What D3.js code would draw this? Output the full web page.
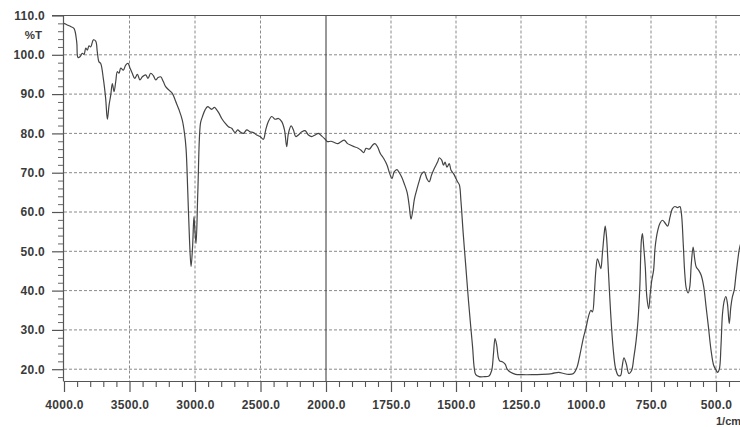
<!DOCTYPE html>
<html><head><meta charset="utf-8">
<script src="https://cdn.jsdelivr.net/npm/d3@7/dist/d3.min.js"></script>
<style>
body{margin:0;background:#fff;overflow:hidden}
text{font-family:"Liberation Sans",Arial,sans-serif;font-weight:bold;fill:#3a3a3a}
</style>
</head><body>
<svg id="chart" width="740" height="427"></svg>
<script>
// wavenumber (1/cm) and transmittance (%T)
const wavenumber = [4000,3975,3949,3924,3903,3893,3878,3860,3847,3834,3822,3809,3796,3776,3758,3746,3733,3720,3700,3682,3669,3656,3643,3631,3618,3605,3593,3580,3567,3547,3529,3511,3496,3479,3460,3440,3420,3402,3376,3359,3338,3318,3300,3282,3262,3242,3224,3198,3173,3147,3122,3097,3080,3068,3055,3042,3030,3018,3008,3000,2992,2978,2958,2944,2923,2903,2885,2872,2852,2834,2816,2796,2770,2745,2720,2694,2674,2656,2630,2605,2579,2554,2529,2503,2478,2460,2440,2414,2388,2363,2338,2317,2300,2287,2266,2249,2231,2211,2185,2160,2134,2109,2083,2058,2032,2006,1994,1981,1968,1955,1942,1930,1917,1904,1891,1878,1865,1855,1846,1833,1821,1812,1802,1791,1778,1765,1757,1746,1738,1727,1718,1709,1699,1688,1680,1673,1667,1660,1650,1641,1632,1622,1612,1603,1594,1584,1571,1564,1555,1548,1542,1535,1526,1519,1509,1500,1494,1487,1481,1472,1462,1452,1443,1436,1430,1424,1411,1392,1373,1363,1356,1350,1344,1337,1332,1322,1311,1303,1290,1271,1246,1207,1169,1131,1105,1086,1067,1048,1035,1023,1010,1000,990,981,975,968,962,956,949,943,937,930,926,921,914,905,896,886,876,867,861,854,845,835,825,816,807,800,793,787,783,778,772,766,759,753,747,740,734,724,715,706,696,686,677,668,658,648,639,633,626,620,614,607,601,595,588,582,576,567,557,547,538,529,519,509,500,494,487,481,475,468,462,456,449,443,437,430,424,418,411,405];
const transmittance = [108,107.6,107.2,106.7,103.3,99.3,99.5,100.4,100.1,101.7,101.2,102.3,102,103.8,103.5,100.8,98.2,97.8,94,88.9,83.6,87.2,89.8,92.7,90.6,93.2,95.7,95.3,96.6,96.1,97.4,97.8,96.6,95.3,94,95,93.6,94.4,94.9,94,95.3,94.7,93.6,94.2,94.4,93.2,91.9,91,90.2,88.1,86,83.4,80,76,65,53,46.1,51.5,58.8,55,52,65.6,82.6,84.2,86,86.8,86.4,86.1,86.6,86,85.1,83.8,82.6,81.7,81.3,80.2,80.9,80.4,80,80.9,80.4,80.2,79.6,79.2,78.5,80.9,83,84.3,83.6,83.8,83,80.9,76.6,80,81.9,80.9,79.2,79.6,80.4,80.7,79.6,79.2,79.6,80,79.3,78.5,77.9,78,77.7,77.4,77.9,78.3,77.4,77,76.6,76.3,75.7,75.1,76.2,76,77,77.4,76.6,74.9,73.6,71.9,70.2,68.5,70.2,70.8,70,68.9,67.2,65,61.6,58.2,60,63.3,65.9,68,69.7,70.2,68.5,67.7,69.4,71,72.7,73.8,73.2,71.9,72.7,71.4,72.3,70.6,69.7,68.5,67.7,66.9,62.8,54.3,45.9,37.4,30.6,25.5,20.4,18.6,18.1,18.1,18.3,19.6,23.8,27.8,26.3,22.9,22.1,21.9,21.3,20,19.2,18.7,18.6,18.6,18.7,18.9,19.2,18.9,18.7,18.9,20.4,23.8,28,30.5,33.5,35,34.6,39.2,45.2,48.1,46.8,45.6,49.4,54.5,56.4,53.6,45.2,34.1,25.6,20.1,18.4,18.4,20.6,22.9,21.4,18.9,19.6,23,27.4,32.4,40.9,52.8,54.5,51.1,46,38.4,35.4,39.2,42.6,45.2,51.1,55.3,57.2,57.9,57.2,56.4,58.7,60.8,61.4,61.1,61.4,59.6,51.9,44.3,40.5,39.4,40.9,46.8,51.1,48.1,46,45.2,43.9,40.9,35.8,30.7,24.8,21,19.8,19.2,20.1,25.7,34.1,37.5,38.5,36.7,31.6,35.8,38.4,40.1,43.5,46.8,50.3,52];
const xMajorTicks = [4000,3500,3000,2500,2000,1750,1500,1250,1000,750,500];
const xMinorTicks = [3900,3800,3700,3600,3400,3300,3200,3100,2900,2800,2700,2600,2400,2300,2200,2100,1950,1900,1850,1800,1700,1650,1600,1550,1450,1400,1350,1300,1200,1150,1100,1050,950,900,850,800,700,650,600,550,450];
const yMajorTicks = [20,30,40,50,60,70,80,90,100,110];
const yMinorTicks = [18,22,24,26,28,32,34,36,38,42,44,46,48,52,54,56,58,62,64,66,68,72,74,76,78,82,84,86,88,92,94,96,98,102,104,106,108];
const yTitle = "%T";
const xUnit = "1/cm";

const svg = d3.select("#chart");
const x = d3.scaleLinear().domain([4000, 2000, 400]).range([64, 326, 742]);
const y = d3.scaleLinear().domain([17, 110]).range([381, 15.5]);
const fmt = d3.format(".1f");

// grid
const grid = svg.append("g");
grid.selectAll("line.h").data(yMajorTicks.filter(d => d < 110)).enter().append("line")
  .attr("x1", 64).attr("x2", 740).attr("y1", d => y(d)).attr("y2", d => y(d))
  .attr("stroke", "#8a8a8a").attr("stroke-width", 1).attr("stroke-dasharray", "3,2");
grid.selectAll("line.v").data(xMajorTicks.filter(d => d < 4000)).enter().append("line")
  .attr("x1", d => x(d)).attr("x2", d => x(d)).attr("y1", y(110)).attr("y2", y(17))
  .attr("stroke", d => d === 2000 ? "#333" : "#8a8a8a")
  .attr("stroke-width", 1)
  .attr("stroke-dasharray", d => d === 2000 ? null : "3,2");

// top border
svg.append("line").attr("x1", 52).attr("x2", 740).attr("y1", y(110)).attr("y2", y(110))
  .attr("stroke", "#555").attr("stroke-width", 1.2);

// left axis
const yAxis = svg.append("g").attr("transform", "translate(63,0)")
  .call(d3.axisLeft(y).tickValues(yMajorTicks).tickSize(11).tickSizeOuter(0).tickPadding(7).tickFormat(fmt));
yAxis.select(".domain").attr("stroke", "#555").attr("stroke-width", 1.2);
yAxis.selectAll(".tick line").attr("stroke", "#555").attr("stroke-width", 1.2);
yAxis.selectAll("text").attr("font-size", 12).attr("font-family", null).style("letter-spacing", "0.3px");
svg.append("g").attr("transform", "translate(63,0)")
  .call(d3.axisLeft(y).tickValues(yMinorTicks).tickSize(5).tickSizeOuter(0).tickFormat(""))
  .call(g => g.select(".domain").remove())
  .selectAll("line").attr("stroke", "#666");

// bottom axis
const xAxis = svg.append("g").attr("transform", "translate(0,381)")
  .call(d3.axisBottom(x).tickValues(xMajorTicks).tickSize(11).tickSizeOuter(0).tickPadding(8).tickFormat(fmt));
xAxis.select(".domain").attr("stroke", "#555").attr("stroke-width", 1.2);
xAxis.selectAll(".tick line").attr("stroke", "#555").attr("stroke-width", 1.2);
xAxis.selectAll("text").attr("font-size", 12).attr("font-family", null).style("letter-spacing", "0.3px");
svg.append("g").attr("transform", "translate(0,381)")
  .call(d3.axisBottom(x).tickValues(xMinorTicks).tickSize(6).tickSizeOuter(0).tickFormat(""))
  .call(g => g.select(".domain").remove())
  .selectAll("line").attr("stroke", "#555").attr("stroke-width", 1.1);

svg.append("text").attr("x", 42).attr("y", 39).attr("text-anchor", "end")
  .attr("font-size", 11.5).text(yTitle);
svg.append("text").attr("x", 716).attr("y", 425)
  .attr("font-size", 11).text(xUnit);

// spectrum
const pts = wavenumber.map((w, i) => [w, transmittance[i]]);
svg.append("path").datum(pts)
  .attr("fill", "none").attr("stroke", "#444").attr("stroke-width", 1.2)
  .attr("stroke-linejoin", "round")
  .attr("d", d3.line().x(d => x(d[0])).y(d => y(d[1])).curve(d3.curveCatmullRom.alpha(0.5)));
</script>
</body></html>
